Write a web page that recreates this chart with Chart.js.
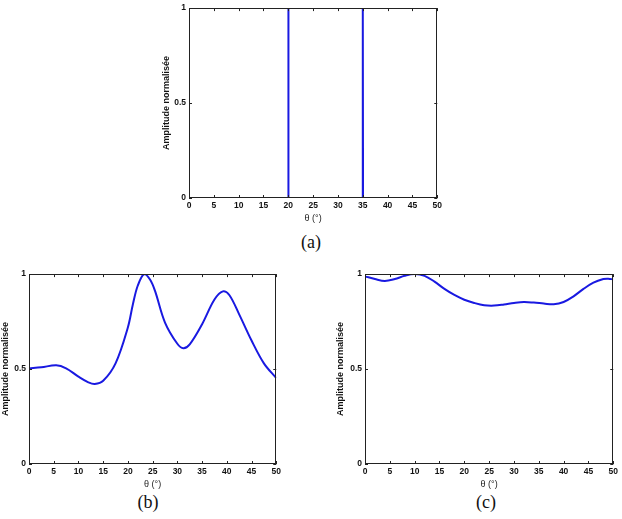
<!DOCTYPE html>
<html>
<head>
<meta charset="utf-8">
<script src="https://cdn.jsdelivr.net/npm/chart.js@4/dist/chart.umd.min.js"></script>
<style>
  body { margin: 0; background: #fff; width: 622px; height: 519px; position: relative; overflow: hidden; }
  canvas { position: absolute; }
  .cap { position: absolute; font-family: "Liberation Serif", "DejaVu Serif", serif; font-size: 18px; color: #111; transform: translate(-50%, -50%); }
</style>
</head>
<body>
<canvas id="chartA" width="284" height="224" style="left:161px; top:0px"></canvas>
<canvas id="chartB" width="284" height="224" style="left:0px; top:266px"></canvas>
<canvas id="chartC" width="286" height="224" style="left:335px; top:266px"></canvas>
<div class="cap" style="left:311px; top:242px">(a)</div>
<div class="cap" style="left:148px; top:502px">(b)</div>
<div class="cap" style="left:486px; top:502px">(c)</div>
<script>
// tick labels
let xTicks = [0, 5, 10, 15, 20, 25, 30, 35, 40, 45, 50];
let yTicks = [0, 0.5, 1];

// (a) two ideal sources at 20 and 35 degrees
let thetaA = [0, 19.95, 20, 20.05, 34.95, 35, 35.05, 50];
let ampA   = [0, 0, 1, 0, 0, 1, 0, 0];

// (b)
let thetaB = [0, 2.5, 5.5, 7.5, 10, 12, 13.3, 15, 17.5, 20, 21, 22, 23.3, 24.5, 25.5, 27.5, 30, 31.2, 32.5, 35, 37.5, 39.2, 40.5, 42.5, 45, 47.5, 50];
let ampB   = [0.503, 0.509, 0.52, 0.504, 0.46, 0.43, 0.421, 0.438, 0.53, 0.72, 0.84, 0.94, 1.0, 0.97, 0.91, 0.745, 0.633, 0.61, 0.63, 0.736, 0.866, 0.909, 0.89, 0.788, 0.65, 0.53, 0.452];

// (c)
let thetaC = [0, 2, 4, 6, 8, 10, 12, 14, 16, 18, 20, 22, 24, 26, 28, 30, 32, 34, 36, 38, 40, 42, 44, 46, 48, 49, 50];
let ampC   = [0.988, 0.974, 0.964, 0.974, 0.991, 1.0, 0.991, 0.96, 0.922, 0.89, 0.865, 0.848, 0.836, 0.834, 0.84, 0.848, 0.853, 0.85, 0.845, 0.841, 0.853, 0.883, 0.922, 0.955, 0.974, 0.976, 0.972];

const lineBlue = 'rgb(25, 25, 225)';
const axisGrey = '#222';

// box round the plot + inward ticks on all four sides (matlab style)
const boxTicks = {
    id: 'boxTicks',
    afterDatasetsDraw(chart) {
        const { ctx, chartArea: a, scales: { x, y } } = chart;
        const len = 3;
        ctx.save();
        ctx.strokeStyle = axisGrey;
        ctx.lineWidth = 1;
        ctx.beginPath();
        for (let v of xTicks) {
            let px = Math.round(x.getPixelForValue(v)) + 0.5;
            ctx.moveTo(px, a.bottom); ctx.lineTo(px, a.bottom - len);
            ctx.moveTo(px, a.top); ctx.lineTo(px, a.top + len);
        }
        for (let v of yTicks) {
            let py = Math.round(y.getPixelForValue(v)) + 0.5;
            ctx.moveTo(a.left, py); ctx.lineTo(a.left + len, py);
            ctx.moveTo(a.right, py); ctx.lineTo(a.right - len, py);
        }
        ctx.stroke();
        ctx.strokeRect(Math.round(a.left) + 0.5, Math.round(a.top) + 0.5,
            Math.round(a.right - a.left) - 1, Math.round(a.bottom - a.top) - 1);
        ctx.restore();
    }
};

function makeChart(id, thetas, amps, yWidth, smooth) {
    let pts = thetas.map((t, i) => ({ x: t, y: amps[i] }));
    return new Chart(document.getElementById(id), {
        type: 'line',
        data: {
            datasets: [{
                data: pts,
                borderColor: lineBlue,
                borderWidth: 2,
                pointRadius: 0,
                tension: smooth ? 0.35 : 0,
                fill: false
            }]
        },
        options: {
            responsive: false,
            animation: false,
            layout: { padding: { top: 5, right: 6, bottom: 0, left: 0 } },
            plugins: { legend: { display: false }, tooltip: { enabled: false } },
            scales: {
                x: {
                    type: 'linear',
                    min: 0, max: 50,
                    afterBuildTicks: s => { s.ticks = xTicks.map(v => ({ value: v })); },
                    afterFit: s => { s.height = 26; },
                    grid: { display: false, drawTicks: false },
                    border: { display: false },
                    ticks: {
                        padding: 3, color: '#111', maxRotation: 0, autoSkip: false,
                        font: { family: 'Liberation Sans', size: 8.5, weight: 'bold' }
                    },
                    title: {
                        display: true, text: 'θ (°)', color: '#222',
                        padding: { top: 0, bottom: 0 },
                        font: { family: 'Liberation Sans', size: 9 }
                    }
                },
                y: {
                    min: 0, max: 1,
                    afterBuildTicks: s => { s.ticks = yTicks.map(v => ({ value: v })); },
                    afterFit: s => { s.width = yWidth; },
                    grid: { display: false, drawTicks: false },
                    border: { display: false },
                    ticks: {
                        padding: 3, color: '#111',
                        callback: v => String(v),
                        font: { family: 'Liberation Sans', size: 8.5, weight: 'bold' }
                    },
                    title: {
                        display: true, text: 'Amplitude normalisée', color: '#111',
                        padding: { top: 0, bottom: 0 },
                        font: { family: 'Liberation Sans', size: 9, weight: 'bold' }
                    }
                }
            }
        },
        plugins: [boxTicks]
    });
}

makeChart('chartA', thetaA, ampA, 28, false);
makeChart('chartB', thetaB, ampB, 29, true);
makeChart('chartC', thetaC, ampC, 30, true);
</script>
</body>
</html>
